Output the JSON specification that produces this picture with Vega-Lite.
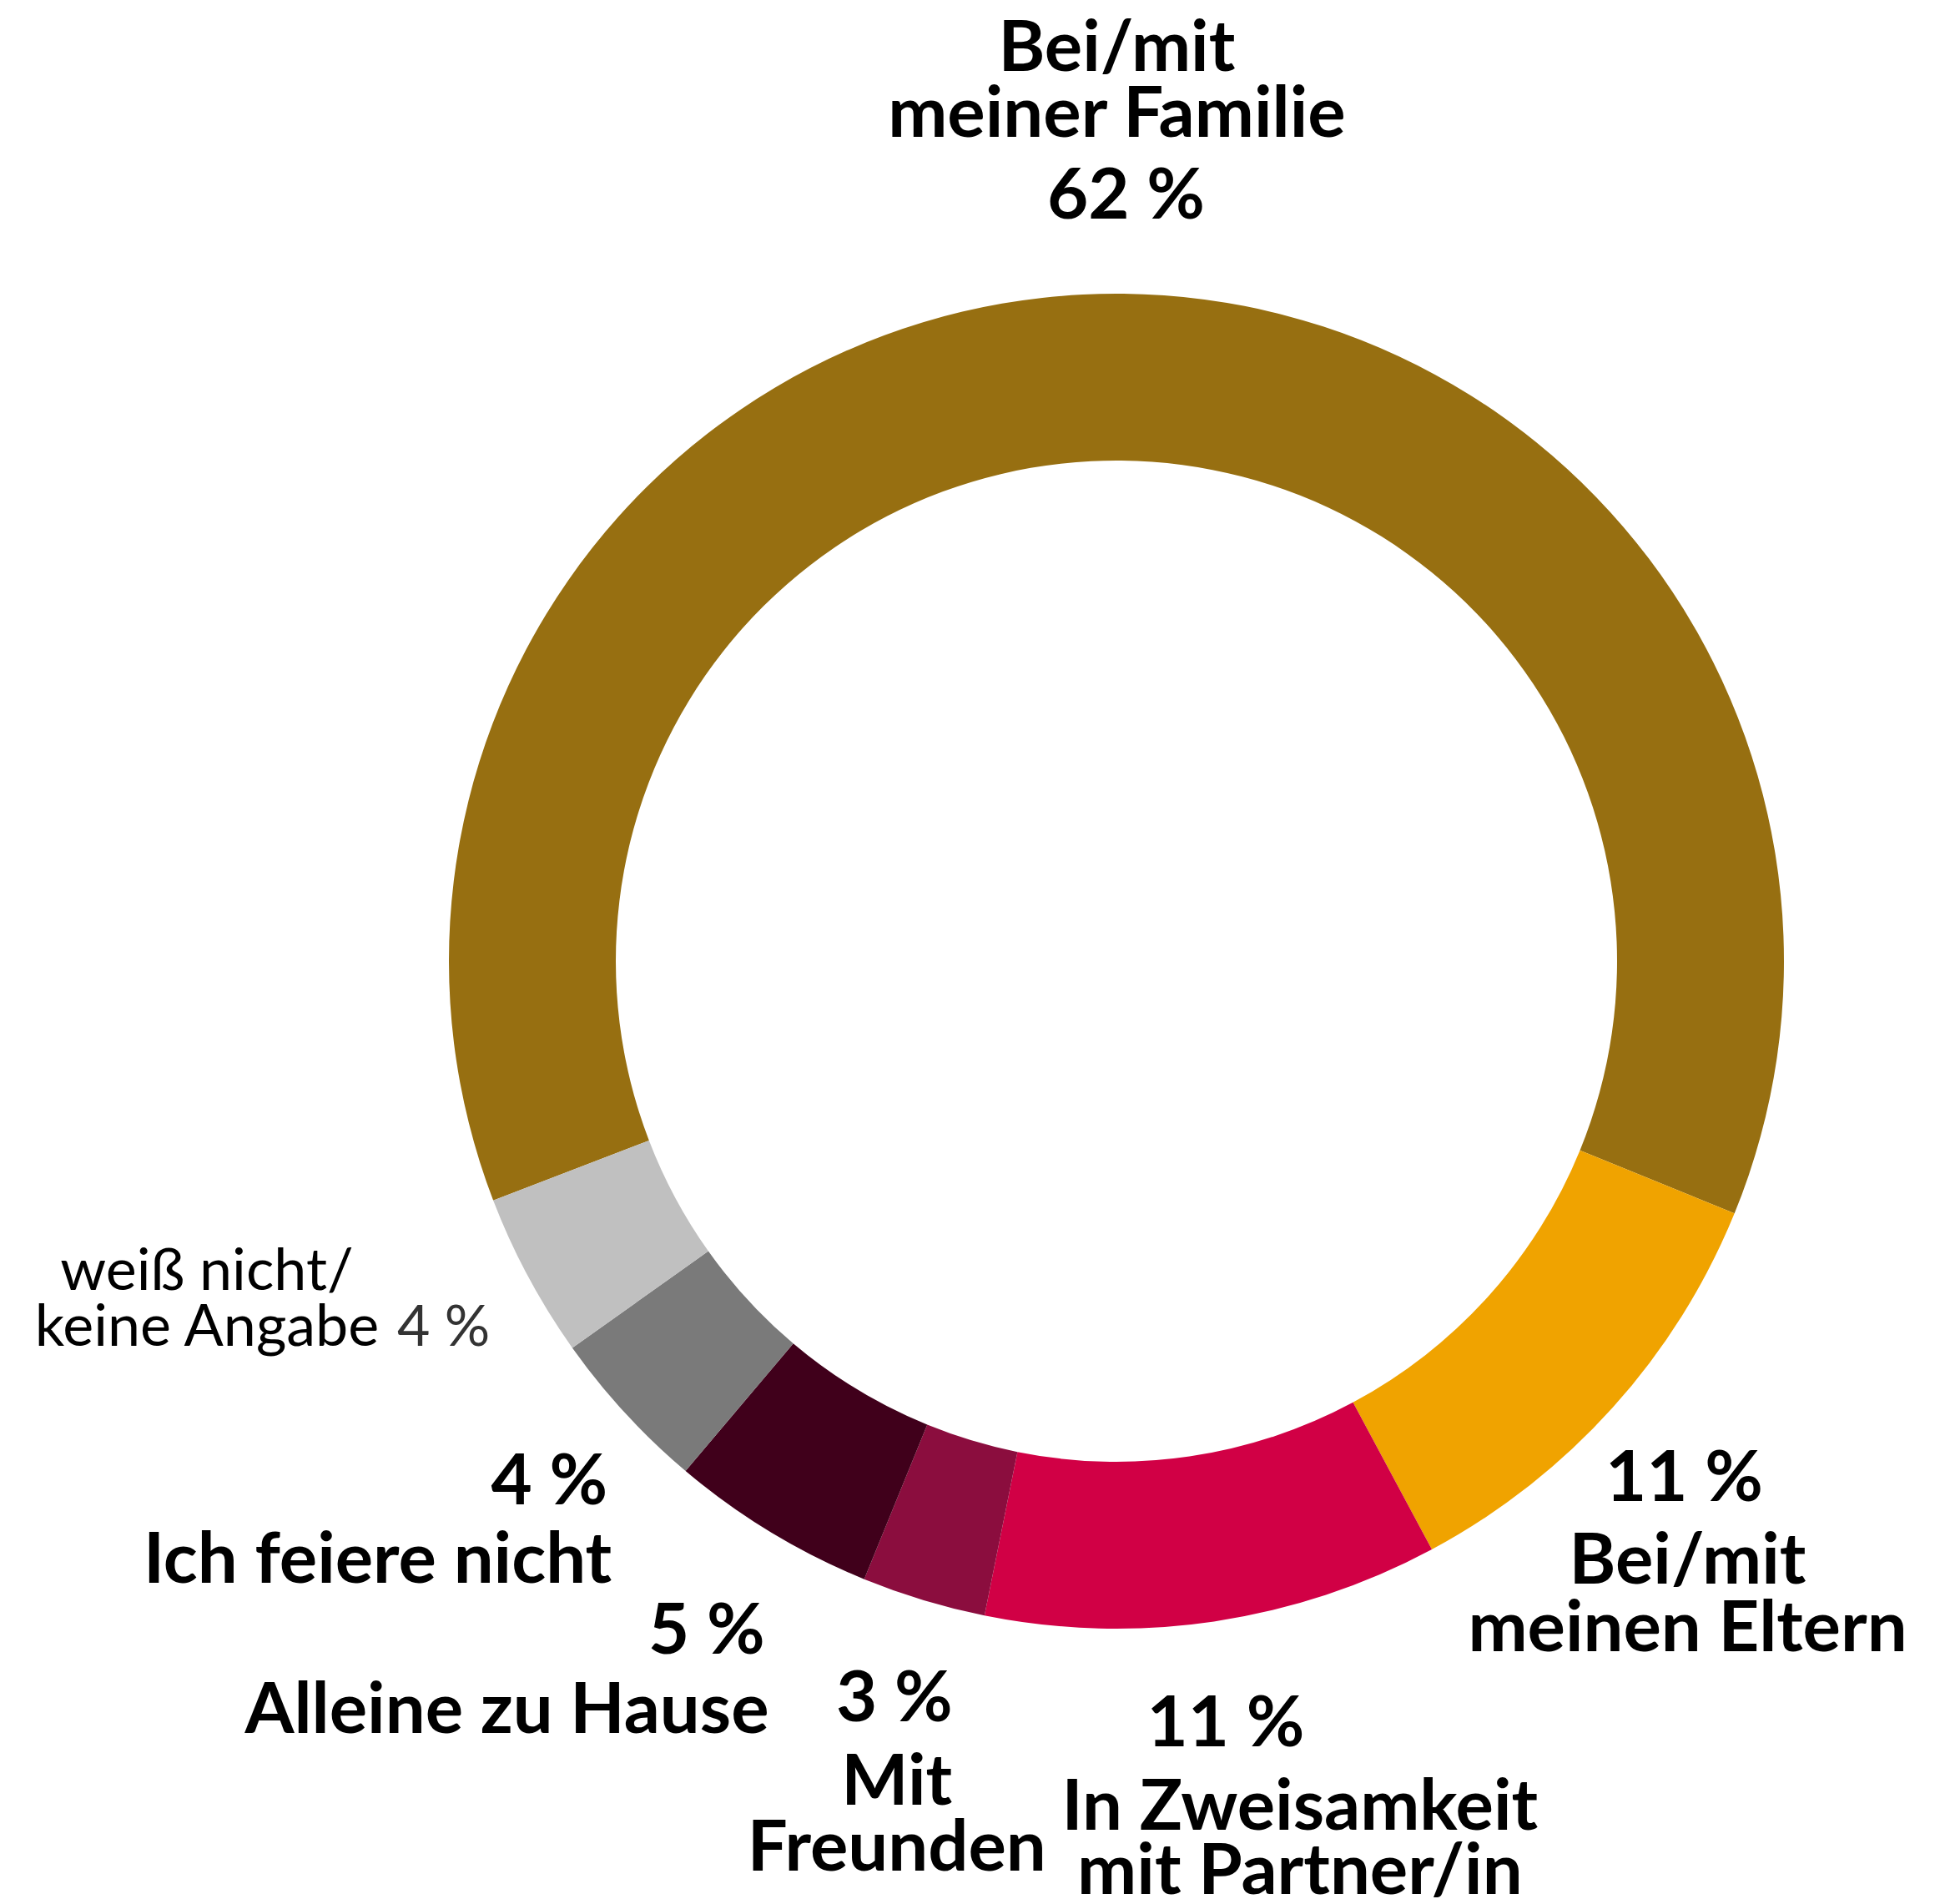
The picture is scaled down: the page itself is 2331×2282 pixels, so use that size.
{
  "$schema": "https://vega.github.io/schema/vega-lite/v6.json",
  "width": 1986,
  "height": 2260,
  "padding": {"left": 345, "top": 22, "right": 0, "bottom": 0},
  "autosize": {"type": "none"},
  "background": "white",
  "view": {"stroke": null},
  "config": {"text": {"font": "Lato", "fontWeight": "bold", "fontSize": 85, "color": "#000000", "baseline": "alphabetic"}},
  "data": {"values": [
    {"label": "Bei/mit meiner Familie", "value": 62, "rank": 1, "lines": ["Bei/mit", "meiner Familie"], "pct": "62 %"},
    {"label": "Bei/mit meinen Eltern", "value": 11, "rank": 2, "lines": ["Bei/mit", "meinen Eltern"], "pct": "11 %"},
    {"label": "In Zweisamkeit mit Partner/in", "value": 11, "rank": 3, "lines": ["In Zweisamkeit", "mit Partner/in"], "pct": "11 %"},
    {"label": "Mit Freunden", "value": 3, "rank": 4, "lines": ["Mit", "Freunden"], "pct": "3 %"},
    {"label": "Alleine zu Hause", "value": 5, "rank": 5, "lines": ["Alleine zu Hause"], "pct": "5 %"},
    {"label": "Ich feiere nicht", "value": 4, "rank": 6, "lines": ["Ich feiere nicht"], "pct": "4 %"},
    {"label": "weiß nicht/ keine Angabe", "value": 4, "rank": 7, "lines": ["weiß nicht/", "keine Angabe"], "pct": "4 %"}
  ]},
  "encoding": {
    "theta": {"field": "value", "type": "quantitative", "stack": true, "scale": {"range": [-1.9373, 4.3459]}},
    "order": {"field": "rank", "type": "quantitative"}
  },
  "layer": [
    {
      "mark": {"type": "arc", "innerRadius": 600, "outerRadius": 800},
      "encoding": {
        "color": {"field": "label", "type": "nominal", "legend": null,
          "scale": {"domain": ["Bei/mit meiner Familie", "Bei/mit meinen Eltern", "In Zweisamkeit mit Partner/in", "Mit Freunden", "Alleine zu Hause", "Ich feiere nicht", "weiß nicht/ keine Angabe"],
                    "range": ["#976F11", "#F0A300", "#D10045", "#8B0D3E", "#40001B", "#7A7A7A", "#C0C0C0"]}}
      }
    },
    {"mark": {"type": "text", "radius": 800, "align": "center", "lineHeight": 79, "dx": -8, "dy": -267},
     "encoding": {"text": {"condition": {"test": "datum.rank == 1", "field": "lines"}, "value": ""}}},
    {"mark": {"type": "text", "radius": 800, "align": "center", "dx": 3, "dy": -90},
     "encoding": {"text": {"condition": {"test": "datum.rank == 1", "field": "pct"}, "value": ""}}},
    {"mark": {"type": "text", "radius": 800, "align": "center", "lineHeight": 81, "dx": 90, "dy": 211},
     "encoding": {"text": {"condition": {"test": "datum.rank == 2", "field": "lines"}, "value": ""}}},
    {"mark": {"type": "text", "radius": 800, "align": "center", "dx": 86, "dy": 112},
     "encoding": {"text": {"condition": {"test": "datum.rank == 2", "field": "pct"}, "value": ""}}},
    {"mark": {"type": "text", "radius": 800, "align": "center", "lineHeight": 77, "dx": 103, "dy": 250},
     "encoding": {"text": {"condition": {"test": "datum.rank == 3", "field": "lines"}, "value": ""}}},
    {"mark": {"type": "text", "radius": 800, "align": "center", "dx": 14, "dy": 150},
     "encoding": {"text": {"condition": {"test": "datum.rank == 3", "field": "pct"}, "value": ""}}},
    {"mark": {"type": "text", "radius": 800, "align": "center", "lineHeight": 79, "dx": -32, "dy": 245},
     "encoding": {"text": {"condition": {"test": "datum.rank == 4", "field": "lines"}, "value": ""}}},
    {"mark": {"type": "text", "radius": 800, "align": "center", "dx": -35, "dy": 145},
     "encoding": {"text": {"condition": {"test": "datum.rank == 4", "field": "pct"}, "value": ""}}},
    {"mark": {"type": "text", "radius": 800, "align": "right", "dx": -2, "dy": 241},
     "encoding": {"text": {"condition": {"test": "datum.rank == 5", "field": "lines"}, "value": ""}}},
    {"mark": {"type": "text", "radius": 800, "align": "right", "dx": -7, "dy": 146},
     "encoding": {"text": {"condition": {"test": "datum.rank == 5", "field": "pct"}, "value": ""}}},
    {"mark": {"type": "text", "radius": 800, "align": "right", "dx": -16, "dy": 204},
     "encoding": {"text": {"condition": {"test": "datum.rank == 6", "field": "lines"}, "value": ""}}},
    {"mark": {"type": "text", "radius": 800, "align": "right", "dx": -21, "dy": 110},
     "encoding": {"text": {"condition": {"test": "datum.rank == 6", "field": "pct"}, "value": ""}}},
    {"mark": {"type": "text", "radius": 800, "align": "center", "fontWeight": "normal", "fontSize": 70, "lineHeight": 67, "dx": -385, "dy": 16},
     "encoding": {"text": {"condition": {"test": "datum.rank == 7", "field": "lines"}, "value": ""}}},
    {"mark": {"type": "text", "radius": 800, "align": "left", "fontWeight": "normal", "fontSize": 68, "color": "#333333", "dx": -157, "dy": 83},
     "encoding": {"text": {"condition": {"test": "datum.rank == 7", "field": "pct"}, "value": ""}}}
  ]
}
